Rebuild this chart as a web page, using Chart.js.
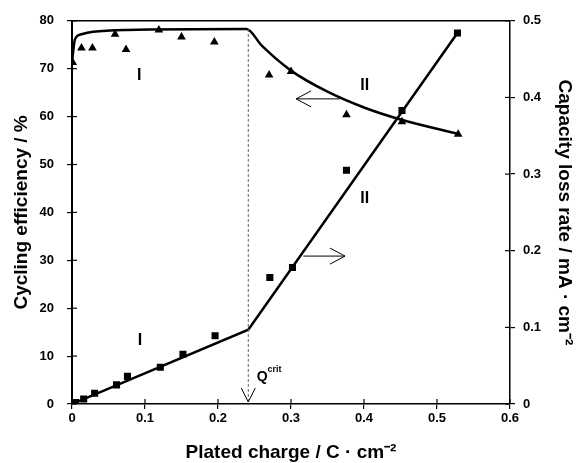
<!DOCTYPE html>
<html>
<head>
<meta charset="utf-8">
<script src="https://cdn.jsdelivr.net/npm/chart.js@4/dist/chart.umd.min.js"></script>
<style>
  body { margin: 0; background: #fff; }
  canvas { display: block; }
</style>
</head>
<body>
<canvas id="grafica" width="579" height="463"></canvas>
<script>
// cycling efficiency (triangles, left axis)
const effQ = [0.001, 0.013, 0.028, 0.059, 0.074, 0.119, 0.150, 0.195, 0.270, 0.300, 0.376, 0.452, 0.529];
const effV = [71.3, 74.3, 74.3, 77.2, 74.0, 78.1, 76.6, 75.6, 68.7, 69.4, 60.4, 58.9, 56.3];

// efficiency fit curve
const effFitQ = [0, 0.004, 0.013, 0.029, 0.075, 0.239, 0.26, 0.30, 0.35, 0.40, 0.45, 0.529];
const effFitV = [71.3, 76.1, 77.2, 77.7, 78.1, 78.3, 74.8, 69.6, 65.2, 61.9, 59.4, 56.4];

// capacity loss rate (squares, right axis)
const lossQ = [0, 0.005, 0.016, 0.031, 0.061, 0.076, 0.121, 0.152, 0.196, 0.271, 0.302, 0.376, 0.452, 0.528];
const lossV = [0, 0.002, 0.0065, 0.014, 0.025, 0.036, 0.048, 0.065, 0.089, 0.165, 0.178, 0.305, 0.383, 0.484];

// loss rate fit (two straight segments)
const lossFitQ = [0, 0.2415, 0.528];
const lossFitV = [0, 0.097, 0.484];

// critical charge
const qCrit = 0.2415;
const qCritTop = 78.3;

const xTicks = [0, 0.1, 0.2, 0.3, 0.4, 0.5, 0.6];
const yTicks = [0, 10, 20, 30, 40, 50, 60, 70, 80];
const y2Ticks = [0, 0.1, 0.2, 0.3, 0.4, 0.5];

const pts = (xs, ys) => xs.map((q, i) => ({ x: q, y: ys[i] }));

const FONT = '"Liberation Sans", Arial, sans-serif';
Chart.defaults.font.family = FONT;
Chart.defaults.color = '#000';

function line(ctx, x1, y1, x2, y2) {
  ctx.beginPath();
  ctx.moveTo(x1, y1);
  ctx.lineTo(x2, y2);
  ctx.stroke();
}

// open arrow head, tip at (tx,ty), direction (dx,dy)
function head(ctx, tx, ty, dx, dy, len, half) {
  const nx = -dy, ny = dx;
  ctx.beginPath();
  ctx.moveTo(tx - dx * len + nx * half, ty - dy * len + ny * half);
  ctx.lineTo(tx, ty);
  ctx.lineTo(tx - dx * len - nx * half, ty - dy * len - ny * half);
  ctx.stroke();
}

const overlay = {
  id: 'overlay',
  afterDatasetsDraw(chart) {
    const { ctx, chartArea: a, scales: { x, y, y2 } } = chart;
    ctx.save();
    ctx.strokeStyle = '#000';
    ctx.fillStyle = '#000';

    // top frame
    ctx.lineWidth = 1.5;
    line(ctx, a.left, a.top, a.right, a.top);

    // inner tick marks
    ctx.lineWidth = 1.2;
    x.ticks.forEach((t, i) => { const p = x.getPixelForTick(i); line(ctx, p, a.bottom, p, a.bottom - 5); });
    y.ticks.forEach((t, i) => { const p = y.getPixelForTick(i); line(ctx, a.left, p, a.left + 5, p); });
    y2.ticks.forEach((t, i) => { const p = y2.getPixelForTick(i); line(ctx, a.right, p, a.right - 5, p); });

    // arrow under Qcrit
    ctx.lineWidth = 1;
    head(ctx, x.getPixelForValue(qCrit), a.bottom - 2, 0, 1, 14, 7);

    // arrow to the left axis
    const ly = y.getPixelForValue(63.7);
    const lx1 = x.getPixelForValue(0.367), lx2 = x.getPixelForValue(0.307);
    line(ctx, lx1, ly, lx2, ly);
    head(ctx, lx2, ly, -1, 0, 15, 8);

    // arrow to the right axis
    const ry = y2.getPixelForValue(0.193);
    const rx1 = x.getPixelForValue(0.317), rx2 = x.getPixelForValue(0.374);
    line(ctx, rx1, ry, rx2, ry);
    head(ctx, rx2, ry, 1, 0, 15, 8);

    // region labels
    ctx.font = 'bold 16px ' + FONT;
    ctx.textAlign = 'center';
    ctx.textBaseline = 'middle';
    ctx.fillText('I', x.getPixelForValue(0.092), y.getPixelForValue(68.6));
    ctx.fillText('II', x.getPixelForValue(0.401), y.getPixelForValue(66.5));
    ctx.fillText('I', x.getPixelForValue(0.093), y2.getPixelForValue(0.083));
    ctx.fillText('II', x.getPixelForValue(0.401), y2.getPixelForValue(0.2675));

    // Q crit
    ctx.textAlign = 'left';
    ctx.textBaseline = 'alphabetic';
    ctx.font = 'bold 14px ' + FONT;
    const qx = x.getPixelForValue(0.253);
    const qy = y.getPixelForValue(4.7);
    ctx.fillText('Q', qx, qy);
    const qw = ctx.measureText('Q').width;
    ctx.font = 'bold 9px ' + FONT;
    ctx.fillText('crit', qx + qw, qy - 9);
    ctx.restore();
  }
};

const ctx = document.getElementById('grafica').getContext('2d');

const tickFont = { size: 13, weight: 'bold' };
const titleFont = { size: 19, weight: 'bold' };

const chart = new Chart(ctx, {
  type: 'scatter',
  data: {
    datasets: [
      {
        data: pts([qCrit, qCrit], [qCritTop, 0]),
        showLine: true,
        borderColor: '#666',
        borderWidth: 1,
        borderDash: [3, 2],
        pointRadius: 0,
        yAxisID: 'y'
      },
      {
        data: pts(effFitQ, effFitV),
        showLine: true,
        borderColor: '#000',
        borderWidth: 2.5,
        cubicInterpolationMode: 'monotone',
        pointRadius: 0,
        yAxisID: 'y'
      },
      {
        data: pts(lossFitQ, lossFitV),
        showLine: true,
        borderColor: '#000',
        borderWidth: 2.5,
        pointRadius: 0,
        yAxisID: 'y2'
      },
      {
        data: pts(effQ, effV),
        pointStyle: 'triangle',
        pointRadius: 5,
        backgroundColor: '#000',
        borderColor: '#000',
        borderWidth: 0,
        yAxisID: 'y'
      },
      {
        data: pts(lossQ, lossV),
        pointStyle: 'rect',
        pointRadius: 5,
        backgroundColor: '#000',
        borderColor: '#000',
        borderWidth: 0,
        yAxisID: 'y2'
      }
    ]
  },
  options: {
    responsive: false,
    animation: false,
    layout: { padding: { top: 18, left: 0, right: 0, bottom: 0 } },
    plugins: { legend: { display: false }, tooltip: { enabled: false } },
    scales: {
      x: {
        type: 'linear',
        min: 0,
        max: 0.6,
        afterFit: s => { s.height = 59; },
        afterBuildTicks: s => { s.ticks = xTicks.map(v => ({ value: v })); },
        grid: { drawOnChartArea: false, drawTicks: true, tickLength: 5, color: '#000', lineWidth: 1.2 },
        border: { display: true, color: '#000', width: 1.5 },
        ticks: {
          padding: 2,
          font: tickFont,
          callback: v => (v === 0 ? '0' : v.toFixed(1))
        },
        title: {
          display: true,
          text: 'Plated charge / C · cm⁻²',
          font: titleFont,
          padding: { top: 0, bottom: -1 }
        }
      },
      y: {
        position: 'left',
        min: 0,
        max: 80,
        afterFit: s => { s.width = 72; },
        afterBuildTicks: s => { s.ticks = yTicks.map(v => ({ value: v })); },
        grid: { drawOnChartArea: false, drawTicks: true, tickLength: 5, color: '#000', lineWidth: 1.2 },
        border: { display: true, color: '#000', width: 2 },
        ticks: { padding: 13, font: tickFont },
        title: {
          display: true,
          text: 'Cycling efficiency / %',
          font: titleFont,
          padding: { top: 10, bottom: 0 }
        }
      },
      y2: {
        position: 'right',
        min: 0,
        max: 0.5,
        afterFit: s => { s.width = 69; },
        afterBuildTicks: s => { s.ticks = y2Ticks.map(v => ({ value: v })); },
        grid: { drawOnChartArea: false, drawTicks: true, tickLength: 5, color: '#000', lineWidth: 1.2 },
        border: { display: true, color: '#000', width: 1.5 },
        ticks: {
          padding: 8,
          font: tickFont,
          callback: v => (v === 0 ? '0' : v.toFixed(1))
        },
        title: {
          display: true,
          text: 'Capacity loss rate / mA · cm⁻²',
          font: titleFont,
          padding: { top: 3, bottom: 0 }
        }
      }
    }
  },
  plugins: [overlay]
});
</script>
</body>
</html>
